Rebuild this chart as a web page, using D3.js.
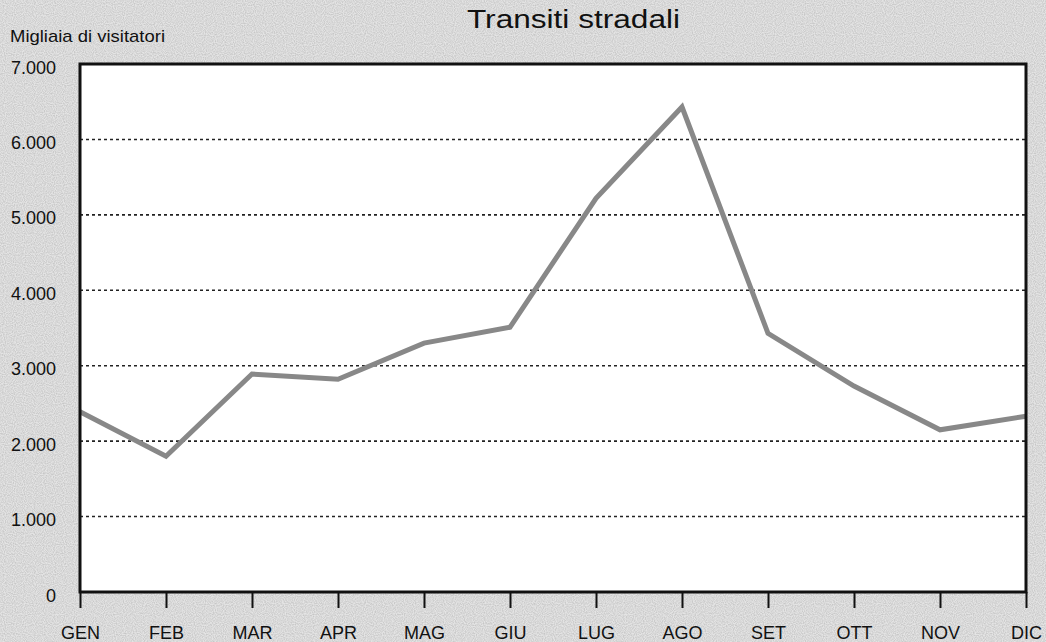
<!DOCTYPE html>
<html>
<head>
<meta charset="utf-8">
<script src="https://cdn.jsdelivr.net/npm/d3@7"></script>
<style>
  body { margin: 0; background: #dedede; }
  text { font-family: "Liberation Sans", Arial, sans-serif; fill: #111; }
</style>
</head>
<body>
<div id="chart"></div>
<script>
var months = ["GEN", "FEB", "MAR", "APR", "MAG", "GIU", "LUG", "AGO", "SET", "OTT", "NOV", "DIC"];
var visitors = [2390, 1800, 2890, 2820, 3300, 3510, 5220, 6430, 3430, 2730, 2150, 2330];
var yTicks = [0, 1000, 2000, 3000, 4000, 5000, 6000, 7000];

var svgWidth = 1046;
var svgHeight = 642;

var margin = { top: 64, right: 20, bottom: 50, left: 80 };
var width = svgWidth - margin.left - margin.right;
var height = svgHeight - margin.top - margin.bottom;

var svg = d3.select("#chart")
  .append("svg")
  .attr("width", svgWidth)
  .attr("height", svgHeight);

// speckled scan background
var defs = svg.append("defs");
var noise = defs.append("filter").attr("id", "noise")
  .attr("x", 0).attr("y", 0).attr("width", "100%").attr("height", "100%");
noise.append("feTurbulence")
  .attr("type", "fractalNoise")
  .attr("baseFrequency", 0.9)
  .attr("numOctaves", 1)
  .attr("seed", 3);
noise.append("feColorMatrix")
  .attr("type", "matrix")
  .attr("values", "0 0 0 0 0.5  0 0 0 0 0.5  0 0 0 0 0.5  0 0 0 -2.2 1.5");

svg.append("rect")
  .attr("width", svgWidth).attr("height", svgHeight)
  .attr("fill", "#e4e4e4");
svg.append("rect")
  .attr("width", svgWidth).attr("height", svgHeight)
  .attr("filter", "url(#noise)")
  .attr("opacity", 0.7);

var chartGroup = svg.append("g")
  .attr("transform", `translate(${margin.left}, ${margin.top})`);

var xScale = d3.scalePoint()
  .domain(months)
  .range([0, width]);

var yScale = d3.scaleLinear()
  .domain([0, 7000])
  .range([height, 0]);

var fmt = d3.format(",");

// plot area
chartGroup.append("rect")
  .attr("width", width)
  .attr("height", height)
  .attr("fill", "#fff");

// dotted gridlines
chartGroup.append("g")
  .selectAll("line")
  .data(yTicks.filter(d => d > 0 && d < 7000))
  .enter()
  .append("line")
  .attr("x1", 0)
  .attr("x2", width)
  .attr("y1", d => yScale(d))
  .attr("y2", d => yScale(d))
  .attr("stroke", "#222")
  .attr("stroke-width", 1.6)
  .attr("stroke-dasharray", "3,3");

// y axis labels
var leftAxis = d3.axisLeft(yScale)
  .tickValues(yTicks)
  .tickSize(0)
  .tickPadding(24)
  .tickFormat(d => fmt(d).replace(/,/g, "."));

var yAxis = chartGroup.append("g").call(leftAxis);
yAxis.select(".domain").remove();
yAxis.selectAll("text")
  .attr("font-size", "18px")
  .attr("dy", "0.5em")
  .attr("fill", "#111");

// x axis ticks + labels
var bottomAxis = d3.axisBottom(xScale)
  .tickSize(16)
  .tickPadding(18);

var xAxis = chartGroup.append("g")
  .attr("transform", `translate(0, ${height})`)
  .call(bottomAxis);
xAxis.select(".domain").remove();
xAxis.selectAll("line")
  .attr("stroke", "#111")
  .attr("stroke-width", 2);
xAxis.selectAll("text")
  .attr("font-size", "18px")
  .attr("fill", "#111");

// data line
var line = d3.line()
  .x((d, i) => xScale(months[i]))
  .y(d => yScale(d));

chartGroup.append("path")
  .datum(visitors)
  .attr("d", line)
  .attr("fill", "none")
  .attr("stroke", "#888")
  .attr("stroke-width", 5)
  .attr("stroke-linejoin", "miter");

// frame
chartGroup.append("rect")
  .attr("width", width)
  .attr("height", height)
  .attr("fill", "none")
  .attr("stroke", "#111")
  .attr("stroke-width", 3);

// titles
svg.append("text")
  .attr("x", 467)
  .attr("y", 28)
  .attr("font-size", "26px")
  .attr("textLength", 213)
  .attr("lengthAdjust", "spacingAndGlyphs")
  .text("Transiti stradali");

svg.append("text")
  .attr("x", 10)
  .attr("y", 42)
  .attr("font-size", "17px")
  .attr("textLength", 155)
  .attr("lengthAdjust", "spacingAndGlyphs")
  .text("Migliaia di visitatori");
</script>
</body>
</html>
